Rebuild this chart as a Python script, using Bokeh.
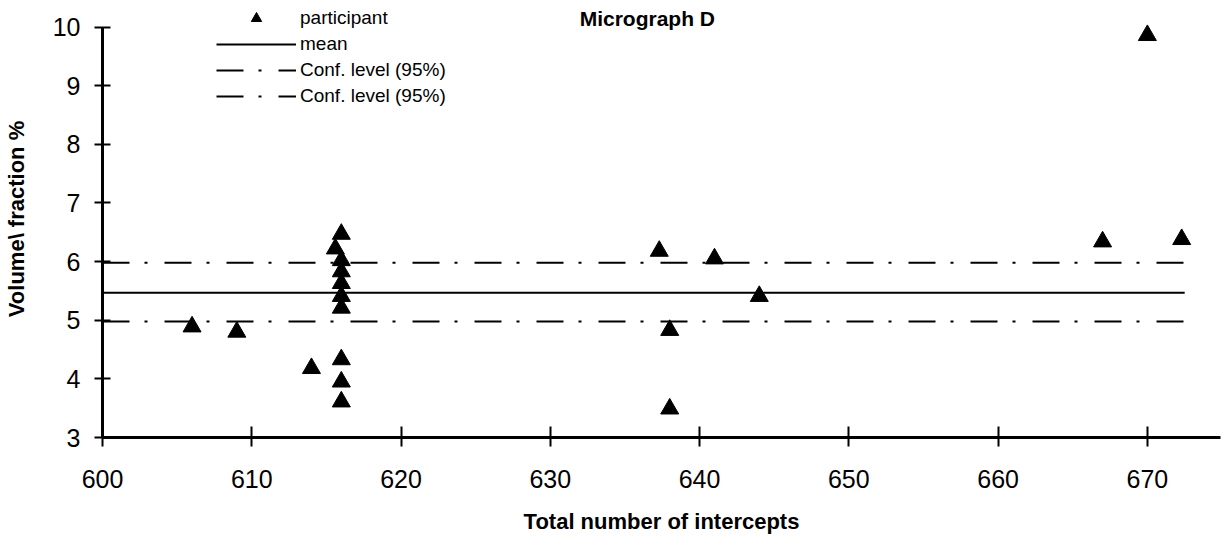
from bokeh.plotting import figure
from bokeh.models import Range1d, Legend, LegendItem, Label, FixedTicker
from bokeh.embed import file_html
from bokeh.resources import INLINE

# ---- data ----
intercepts = [606, 609, 614, 615.6, 616, 616, 616, 616, 616, 616, 616, 616, 616,
              637.3, 638, 638, 641, 644, 667, 670, 672.3]
volume = [4.89, 4.80, 4.18, 6.22, 6.47, 6.02, 5.83, 5.63, 5.41, 5.21, 4.33, 3.95, 3.61,
          6.18, 4.83, 3.49, 6.05, 5.41, 6.34, 9.86, 6.38]
line_x = [600, 672.5]
mean_val = 5.47
conf_upper = 5.98
conf_lower = 4.98
x_ticks = [600, 610, 620, 630, 640, 650, 660, 670]
y_ticks = [3, 4, 5, 6, 7, 8, 9, 10]

FONT = "Liberation Sans"

p = figure(width=1222, height=536, output_backend="svg", toolbar_location=None,
           x_range=Range1d(600, 674.9), y_range=Range1d(3, 10.454),
           min_border_left=99, min_border_right=2, min_border_top=0, min_border_bottom=93)
p.outline_line_color = None
p.xgrid.visible = False
p.ygrid.visible = False

r_pts = p.scatter(intercepts, volume, marker="triangle", size=18,
                  fill_color="black", line_color="black")
r_mean = p.line(line_x, [mean_val] * len(line_x), line_color="black", line_width=2)
r_up = p.line(line_x, [conf_upper] * len(line_x), line_color="black", line_width=2,
              line_dash="27 15 3 17")
r_lo = p.line(line_x, [conf_lower] * len(line_x), line_color="black", line_width=2,
              line_dash="27 15 3 17")

xa = p.xaxis[0]
xa.ticker = FixedTicker(ticks=x_ticks)
xa.minor_tick_line_color = None
xa.major_tick_in = 11
xa.major_tick_out = 9
xa.major_tick_line_width = 2
xa.axis_line_width = 3
xa.major_label_text_font = FONT
xa.major_label_text_font_size = "25px"
xa.major_label_text_color = "black"
xa.major_label_standoff = 23
xa.axis_label = "Total number of intercepts"
xa.axis_label_text_font = FONT
xa.axis_label_text_font_style = "bold"
xa.axis_label_text_font_size = "22px"
xa.axis_label_text_color = "black"
xa.axis_label_standoff = 18

ya = p.yaxis[0]
ya.ticker = FixedTicker(ticks=y_ticks)
ya.bounds = (3, 10)
ya.minor_tick_line_color = None
ya.major_tick_in = 8
ya.major_tick_out = 8
ya.major_tick_line_width = 2
ya.axis_line_width = 3
ya.major_label_text_font = FONT
ya.major_label_text_font_size = "25px"
ya.major_label_text_color = "black"
ya.major_label_standoff = 14
ya.axis_label = "Volume\\ fraction %"
ya.axis_label_text_font = FONT
ya.axis_label_text_font_style = "bold"
ya.axis_label_text_font_size = "22px"
ya.axis_label_text_color = "black"
ya.axis_label_standoff = 21

legend = Legend(items=[
    LegendItem(label="participant", renderers=[r_pts]),
    LegendItem(label="mean", renderers=[r_mean]),
    LegendItem(label="Conf. level (95%)", renderers=[r_up]),
    LegendItem(label="Conf. level (95%)", renderers=[r_lo]),
], location=(114, 328), glyph_width=80, glyph_height=26, label_height=26,
    spacing=0, padding=0, margin=0, label_standoff=4,
    border_line_color=None, background_fill_alpha=0,
    label_text_font=FONT, label_text_font_size="19px", label_text_color="black")
p.add_layout(legend)

title = Label(x=636.5, y=10.15, text="Micrograph D", text_align="center",
              text_baseline="middle", text_font=FONT, text_font_style="bold",
              text_font_size="21px", text_color="black")
p.add_layout(title)

open("out.html", "w").write(file_html(p, INLINE))
